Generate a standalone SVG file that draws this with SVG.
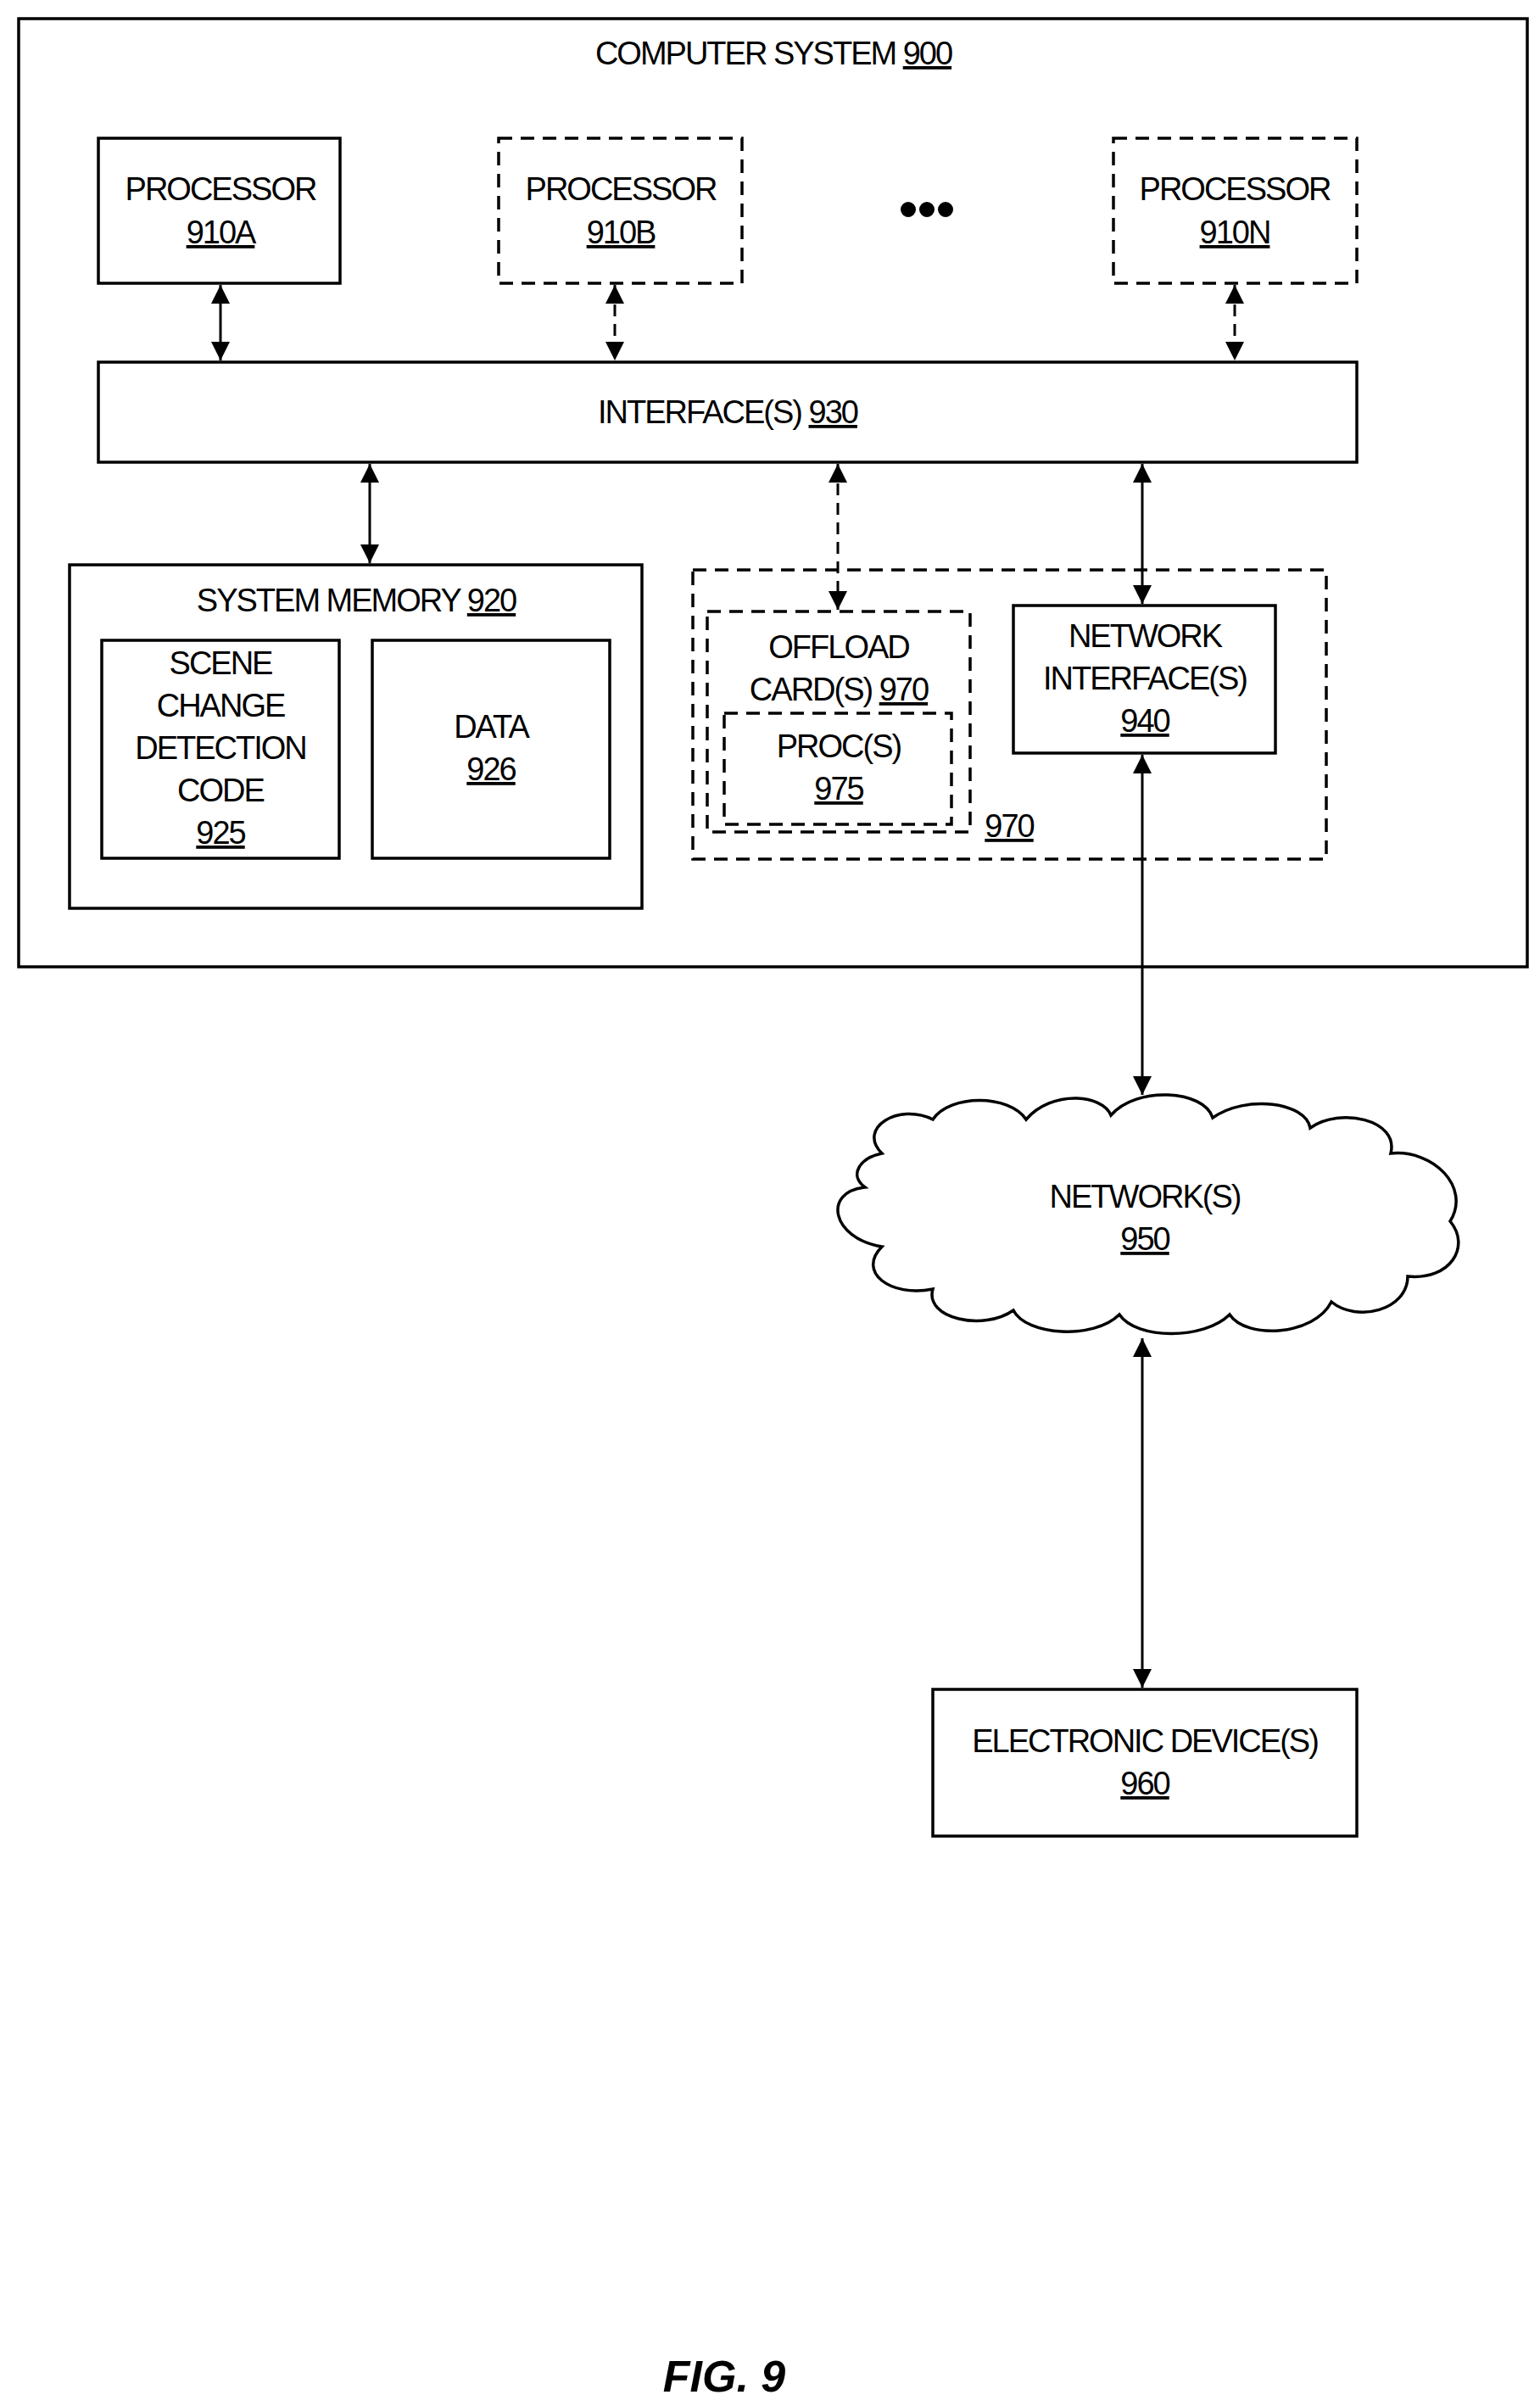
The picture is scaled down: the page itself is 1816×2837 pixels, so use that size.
<svg xmlns="http://www.w3.org/2000/svg" width="1816" height="2837" viewBox="0 0 1816 2837">
<style>
.b{fill:#fff;stroke:#000;stroke-width:3.5}
.d{fill:none;stroke:#000;stroke-width:3.5;stroke-dasharray:16 10}
.t{font-family:"Liberation Sans",Arial,sans-serif;font-size:38px;letter-spacing:-2px;text-anchor:middle;fill:#000}
.l{stroke:#000;stroke-width:3;fill:none}
.ld{stroke:#000;stroke-width:3;fill:none;stroke-dasharray:14 9}
</style>
<defs>
<marker id="a" viewBox="0 0 10 10" refX="10" refY="5" markerWidth="26" markerHeight="22" markerUnits="userSpaceOnUse" orient="auto-start-reverse"><path d="M0,0L10,5L0,10z"/></marker>
</defs>
<rect width="1816" height="2837" fill="#fff"/>
<g id="system"><rect class="b" x="22" y="22" width="1779" height="1118"/>
<text class="t" x="912" y="76">COMPUTER SYSTEM <tspan text-decoration="underline">900</tspan></text></g>
<g id="p910A"><rect class="b" x="116" y="163" width="285" height="171"/><text class="t" x="260" y="236">PROCESSOR</text><text class="t" x="260" y="287" text-decoration="underline">910A</text></g>
<g id="p910B"><rect class="d" x="588" y="163" width="287" height="171"/><text class="t" x="732" y="236">PROCESSOR</text><text class="t" x="732" y="287" text-decoration="underline">910B</text></g>
<g id="dots"><circle cx="1071" cy="247" r="9"/><circle cx="1093" cy="247" r="9"/><circle cx="1115" cy="247" r="9"/></g>
<g id="p910N"><rect class="d" x="1313" y="163" width="287" height="171"/><text class="t" x="1456" y="236">PROCESSOR</text><text class="t" x="1456" y="287" text-decoration="underline">910N</text></g>
<g id="i930"><rect class="b" x="116" y="427" width="1484" height="118"/><text class="t" x="858" y="499">INTERFACE(S) <tspan text-decoration="underline">930</tspan></text></g>
<g id="m920"><rect class="b" x="82" y="666" width="675" height="405"/><text class="t" x="420" y="721">SYSTEM MEMORY <tspan text-decoration="underline">920</tspan></text>
<rect class="b" x="120" y="755" width="280" height="257"/>
<text class="t" x="260" y="795">SCENE</text><text class="t" x="260" y="845">CHANGE</text><text class="t" x="260" y="895">DETECTION</text><text class="t" x="260" y="945">CODE</text><text class="t" x="260" y="995" text-decoration="underline">925</text>
<rect class="b" x="439" y="755" width="280" height="257"/>
<text class="t" x="579" y="870">DATA</text><text class="t" x="579" y="920" text-decoration="underline">926</text></g>
<g id="g970"><rect class="d" x="817" y="672" width="747" height="341"/>
<text class="t" x="1190" y="987" text-decoration="underline">970</text>
<rect class="d" x="834" y="721" width="310" height="260"/>
<text class="t" x="989" y="776">OFFLOAD</text><text class="t" x="989" y="826">CARD(S) <tspan text-decoration="underline">970</tspan></text>
<rect class="d" x="854" y="841" width="268" height="131"/>
<text class="t" x="989" y="893">PROC(S)</text><text class="t" x="989" y="943" text-decoration="underline">975</text></g>
<g id="n940"><rect class="b" x="1195" y="714" width="309" height="174"/>
<text class="t" x="1350" y="763">NETWORK</text><text class="t" x="1350" y="813">INTERFACE(S)</text><text class="t" x="1350" y="863" text-decoration="underline">940</text></g>
<g id="n950"><path class="b" d="M1040,1360 C1010,1330 1060,1300 1100,1320 C1120,1290 1190,1290 1210,1320 C1240,1285 1300,1290 1310,1315 C1340,1280 1420,1285 1430,1318 C1470,1290 1540,1300 1545,1330 C1580,1305 1650,1320 1640,1360 C1690,1355 1735,1400 1710,1440 C1735,1470 1710,1510 1660,1505 C1660,1545 1600,1560 1570,1535 C1550,1575 1470,1580 1450,1550 C1420,1580 1340,1580 1320,1550 C1290,1580 1210,1575 1195,1545 C1160,1570 1090,1555 1100,1520 C1050,1530 1010,1500 1040,1470 C980,1460 970,1405 1020,1400 C1000,1385 1015,1365 1040,1360 Z"/>
<text class="t" x="1350" y="1424">NETWORK(S)</text><text class="t" x="1350" y="1474" text-decoration="underline">950</text></g>
<g id="e960"><rect class="b" x="1100" y="1992" width="500" height="173"/>
<text class="t" x="1350" y="2066">ELECTRONIC DEVICE(S)</text><text class="t" x="1350" y="2116" text-decoration="underline">960</text></g>
<g id="connectors">
<line class="l" x1="260" y1="336" x2="260" y2="425" marker-start="url(#a)" marker-end="url(#a)"/>
<line class="ld" x1="725" y1="336" x2="725" y2="425" marker-start="url(#a)" marker-end="url(#a)"/>
<line class="ld" x1="1456" y1="336" x2="1456" y2="425" marker-start="url(#a)" marker-end="url(#a)"/>
<line class="l" x1="436" y1="547" x2="436" y2="664" marker-start="url(#a)" marker-end="url(#a)"/>
<line class="ld" x1="988" y1="547" x2="988" y2="719" marker-start="url(#a)" marker-end="url(#a)"/>
<line class="l" x1="1347" y1="547" x2="1347" y2="712" marker-start="url(#a)" marker-end="url(#a)"/>
<line class="l" x1="1347" y1="890" x2="1347" y2="1291" marker-start="url(#a)" marker-end="url(#a)"/>
<line class="l" x1="1347" y1="1578" x2="1347" y2="1990" marker-start="url(#a)" marker-end="url(#a)"/>
</g>
<text x="854" y="2820" style="font-family:'Liberation Sans',Arial,sans-serif;font-size:52px;font-weight:bold;font-style:italic" text-anchor="middle">FIG. 9</text>
</svg>
